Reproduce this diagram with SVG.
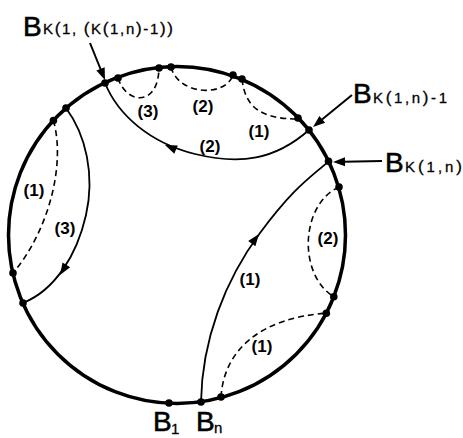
<svg xmlns="http://www.w3.org/2000/svg" xmlns:xlink="http://www.w3.org/1999/xlink" width="463" height="438" viewBox="0 0 463 438">
<style>
.rim{fill:none;stroke:#000;stroke-width:3.5}
.arc{fill:none;stroke:#000;stroke-width:1.8}
.dash{fill:none;stroke:#000;stroke-width:1.6;stroke-dasharray:6 4}
.ptr{fill:none;stroke:#000;stroke-width:2}
.dot{fill:#000}
.lbl{font-family:"Liberation Sans",Arial,sans-serif;font-size:17px;font-weight:bold;text-anchor:middle;fill:#000}
.B{font-family:"Liberation Sans",Arial,sans-serif;font-size:28px;fill:#000;stroke:#000;stroke-width:0.6}
.sub{font-family:"Liberation Sans",Arial,sans-serif;font-size:15px;fill:#000;stroke:#000;stroke-width:0.3}
.p{font-size:17px}
</style>
<defs>
<path id="ah" d="M0,0 L-12,-4.5 L-12,4.5 Z" fill="#000"/>
</defs>
<g id="circle">
<circle class="rim" cx="177" cy="235" r="168.5"/>
</g>
<g id="connectors">
<path class="arc" d="M105,83 C118,115 150,143 195,154 S275,160 309,130"/>
<use xlink:href="#ah" href="#ah" transform="translate(165,145) rotate(203)"/>
<path class="arc" d="M66,108 C86,135 95,175 86,215 S55,290 23,303"/>
<use xlink:href="#ah" href="#ah" transform="translate(60,275) rotate(122)"/>
<path class="arc" d="M201,402 C202,340 225,280 260,233 S310,178 328.5,161.3"/>
<use xlink:href="#ah" href="#ah" transform="translate(259,234) rotate(-53)"/>
<path class="dash" d="M118,78 C126,104 158,108 159,68"/>
<path class="dash" d="M171,67 C178,95 225,98 233,75"/>
<path class="dash" d="M242,79 C245,105 258,119 298,119"/>
<path class="dash" d="M53.4,120.5 C66,165 48,232 13,273"/>
<path class="dash" d="M339,187 C300,205 298,275 333.8,296.7"/>
<path class="dash" d="M221,397 C224,350 260,318 326.3,313.2"/>
<line class="ptr" x1="90" y1="43" x2="100.5" y2="69"/>
<use xlink:href="#ah" href="#ah" transform="translate(105,80) rotate(68)"/>
<line class="ptr" x1="352" y1="95" x2="322" y2="119.5"/>
<use xlink:href="#ah" href="#ah" transform="translate(313,127) rotate(140.6)"/>
<line class="ptr" x1="382" y1="161" x2="344" y2="161.8"/>
<use xlink:href="#ah" href="#ah" transform="translate(333,162) rotate(178.8)"/>
</g>
<g id="points">
<circle class="dot" cx="105" cy="83" r="3.8"/>
<circle class="dot" cx="118" cy="78" r="3.8"/>
<circle class="dot" cx="159" cy="68" r="3.8"/>
<circle class="dot" cx="171" cy="67" r="3.8"/>
<circle class="dot" cx="233" cy="75" r="3.8"/>
<circle class="dot" cx="242" cy="79" r="3.8"/>
<circle class="dot" cx="298" cy="118" r="3.8"/>
<circle class="dot" cx="309" cy="130" r="3.8"/>
<circle class="dot" cx="328.5" cy="161.3" r="3.8"/>
<circle class="dot" cx="339" cy="187" r="3.8"/>
<circle class="dot" cx="333.8" cy="296.7" r="3.8"/>
<circle class="dot" cx="326.3" cy="313.2" r="3.8"/>
<circle class="dot" cx="221" cy="397" r="3.8"/>
<circle class="dot" cx="201" cy="402" r="3.8"/>
<circle class="dot" cx="169" cy="403" r="3.8"/>
<circle class="dot" cx="23" cy="303" r="3.8"/>
<circle class="dot" cx="13" cy="273" r="3.8"/>
<circle class="dot" cx="53.4" cy="120.5" r="3.8"/>
<circle class="dot" cx="66" cy="108" r="3.8"/>
</g>
<g id="arc-labels">
<text class="lbl" x="148" y="117">(3)</text>
<text class="lbl" x="203" y="112">(2)</text>
<text class="lbl" x="259" y="137">(1)</text>
<text class="lbl" x="210" y="152">(2)</text>
<text class="lbl" x="34" y="196">(1)</text>
<text class="lbl" x="65" y="234">(3)</text>
<text class="lbl" x="328" y="244">(2)</text>
<text class="lbl" x="250" y="285">(1)</text>
<text class="lbl" x="262" y="352">(1)</text>
</g>
<g id="label-Bk1k">
<text class="B" x="23" y="36">B</text>
<text class="sub" x="43" y="34" textLength="130" lengthAdjust="spacing">K<tspan class="p">(</tspan>1, <tspan class="p">(</tspan>K<tspan class="p">(</tspan>1,n<tspan class="p">)</tspan>-1<tspan class="p">))</tspan></text>
</g>
<g id="label-Bk1n-1">
<text class="B" x="353" y="103">B</text>
<text class="sub" x="373" y="103" textLength="74" lengthAdjust="spacing">K<tspan class="p">(</tspan>1,n<tspan class="p">)</tspan>-1</text>
</g>
<g id="label-Bk1n">
<text class="B" x="385" y="172">B</text>
<text class="sub" x="405" y="172" textLength="57" lengthAdjust="spacing">K<tspan class="p">(</tspan>1,n<tspan class="p">)</tspan></text>
</g>
<g id="label-B1">
<text class="B" x="153" y="431">B</text>
<text class="sub" x="171" y="434">1</text>
</g>
<g id="label-Bn">
<text class="B" x="196" y="431">B</text>
<text class="sub" x="214" y="433">n</text>
</g>
</svg>
